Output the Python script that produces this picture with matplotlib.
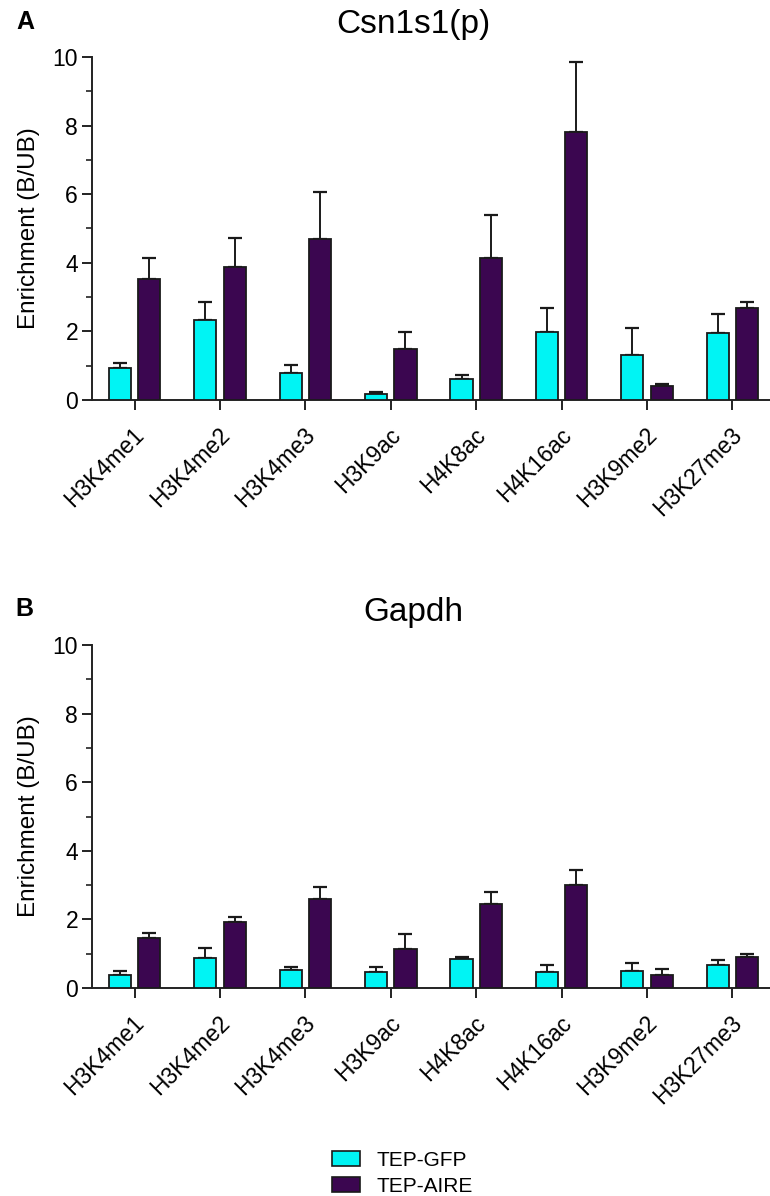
import numpy as np
import matplotlib
matplotlib.use('Agg')
import matplotlib.pyplot as plt
from matplotlib.patches import Patch
from matplotlib.ticker import MultipleLocator
import matplotlib.transforms as mtransforms

plt.rcParams['font.family'] = ['Liberation Sans', 'DejaVu Sans']

marks = ['H3K4me1', 'H3K4me2', 'H3K4me3', 'H3K9ac', 'H4K8ac', 'H4K16ac', 'H3K9me2', 'H3K27me3']

csn_gfp = [0.93, 2.33, 0.78, 0.17, 0.61, 1.99, 1.31, 1.96]
csn_gfp_err = [0.16, 0.53, 0.23, 0.05, 0.12, 0.70, 0.80, 0.55]
csn_aire = [3.52, 3.88, 4.69, 1.50, 4.15, 7.80, 0.41, 2.69]
csn_aire_err = [0.63, 0.83, 1.36, 0.47, 1.24, 2.05, 0.05, 0.17]

gapdh_gfp = [0.39, 0.87, 0.53, 0.48, 0.86, 0.46, 0.51, 0.67]
gapdh_gfp_err = [0.11, 0.29, 0.08, 0.13, 0.05, 0.21, 0.23, 0.16]
gapdh_aire = [1.47, 1.91, 2.60, 1.13, 2.44, 3.00, 0.37, 0.89]
gapdh_aire_err = [0.13, 0.16, 0.34, 0.43, 0.35, 0.45, 0.19, 0.11]

cyan = '#00F4F4'
purple = '#3B0650'
edge = '#1a1a1a'

fig = plt.figure(figsize=(7.7, 11.96), dpi=100)
W, H = 770.0, 1196.0


def panel(rect, gfp, gfp_err, aire, aire_err, title, letter, title_y, letter_xy):
    ax = fig.add_axes(rect)
    x = np.arange(len(marks))
    w = 0.26
    off = 0.172
    ax.bar(x - off, gfp, w, color=cyan, edgecolor=edge, linewidth=1.3, zorder=3)
    ax.bar(x + off, aire, w, color=purple, edgecolor=edge, linewidth=1.3, zorder=3)
    ax.errorbar(x - off, gfp, yerr=[np.zeros(len(gfp)), gfp_err], fmt='none',
                ecolor=edge, elinewidth=1.4, capsize=5, capthick=1.6, zorder=2)
    ax.errorbar(x + off, aire, yerr=[np.zeros(len(aire)), aire_err], fmt='none',
                ecolor=edge, elinewidth=1.4, capsize=5, capthick=1.6, zorder=2)
    ax.set_xlim(-0.5, 7.5)
    ax.set_ylim(0, 10)
    ax.yaxis.set_major_locator(MultipleLocator(2))
    ax.yaxis.set_minor_locator(MultipleLocator(1))
    for s in ['top', 'right']:
        ax.spines[s].set_visible(False)
    for s in ['left', 'bottom']:
        ax.spines[s].set_linewidth(1.4)
        ax.spines[s].set_color('#222222')
    ax.tick_params(axis='y', which='major', length=7, width=1.4, labelsize=16.5, pad=3, color='#222222')
    ax.tick_params(axis='y', which='minor', length=4.5, width=1.2, color='#222222')
    ax.tick_params(axis='x', length=7, width=1.4, labelsize=16.5, pad=4, color='#222222')
    ax.set_xticks(x)
    ax.set_xticklabels(marks, rotation=45, ha='right', va='top', rotation_mode='anchor')
    shift = mtransforms.ScaledTranslation(-0.02, -0.08, fig.dpi_scale_trans)
    for lab in ax.get_xticklabels():
        lab.set_transform(lab.get_transform() + shift)
    ax.set_ylabel('Enrichment (B/UB)', fontsize=17.5, labelpad=9)
    fig.text(413 / W, 1 - title_y / H, title, fontsize=24, ha='center', va='center')
    fig.text(letter_xy[0] / W, 1 - letter_xy[1] / H, letter, fontsize=18,
             fontweight='bold', ha='center', va='center')
    return ax


panel([92 / W, 1 - 400 / H, 683 / W, 343 / H], csn_gfp, csn_gfp_err, csn_aire, csn_aire_err,
      'Csn1s1(p)', 'A', 25, (25, 22))
panel([92 / W, 1 - 988 / H, 683 / W, 343 / H], gapdh_gfp, gapdh_gfp_err, gapdh_aire, gapdh_aire_err,
      'Gapdh', 'B', 613, (24, 609))

handles = [Patch(facecolor=cyan, edgecolor=edge, linewidth=1.2),
           Patch(facecolor=purple, edgecolor=edge, linewidth=1.2)]
fig.legend(handles, ['TEP-GFP', 'TEP-AIRE'], loc='upper left',
           bbox_to_anchor=(313 / W, 1 - 1132 / H), frameon=False, fontsize=15,
           handlelength=1.35, handleheight=0.7, labelspacing=0.35, handletextpad=0.8,
           borderpad=0.4)

fig.savefig('out.png', dpi=100)
